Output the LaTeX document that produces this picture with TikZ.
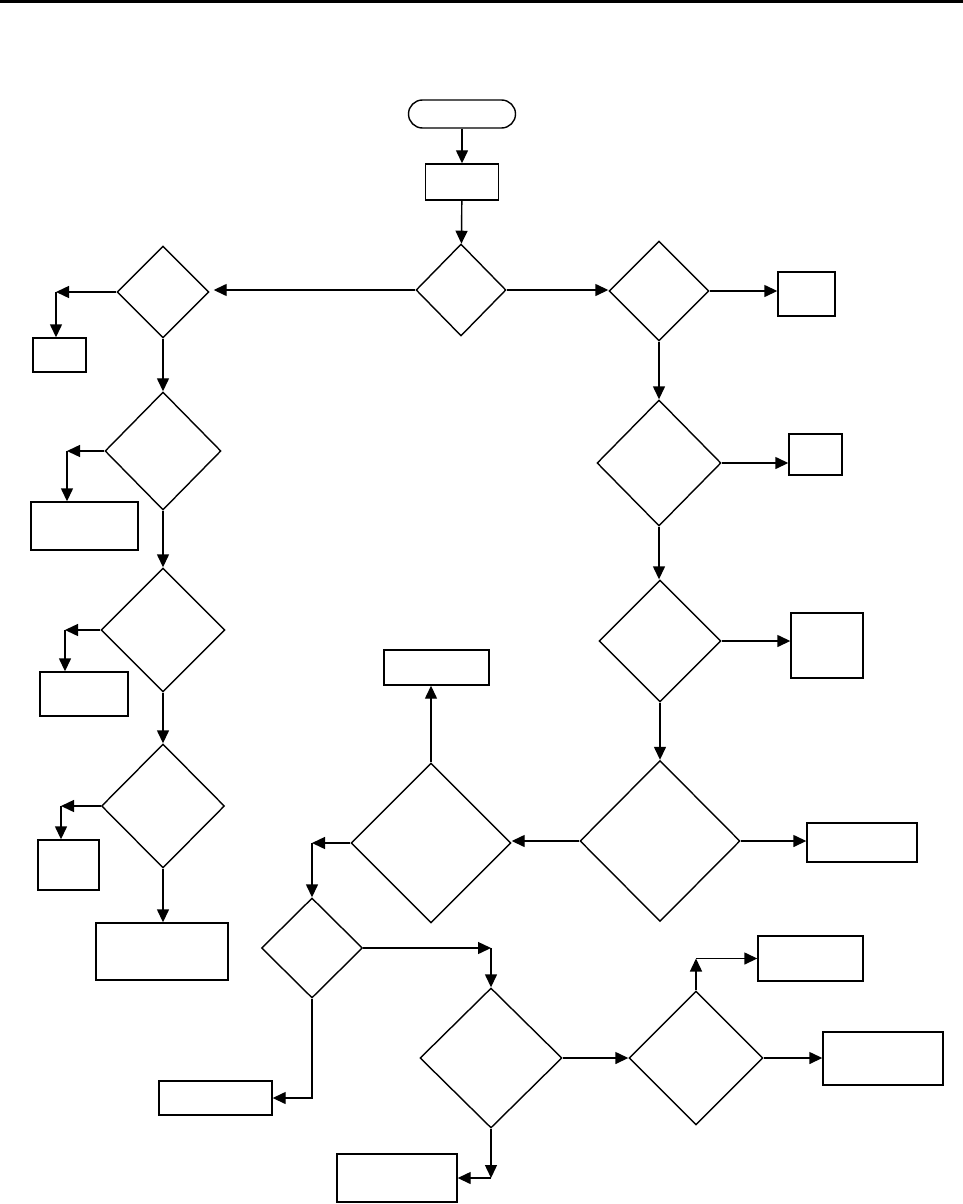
\documentclass[tikz,border=0pt]{standalone}
\usepackage{tikz}
\usetikzlibrary{arrows.meta,shapes.geometric}

\begin{document}
\begin{tikzpicture}[line width=0.8pt,
    flow/.style={-{Triangle[length=2.6mm,width=2.4mm]}},
    term/.style={draw, rectangle, rounded corners=0.28cm, inner sep=0pt},
    procbox/.style={draw, rectangle, inner sep=0pt},
    decide/.style={draw, diamond, aspect=1, inner sep=0pt}]
    \useasboundingbox (0,0) rectangle (19.26,-24.08);
    % header rule
    \draw[line width=1.7pt] (0,-0.03) -- (19.26,-0.03);

    % top
    \node[term, minimum width=2.14cm, minimum height=0.56cm] (start) at (9.24,-2.28) {};
    \node[procbox, minimum width=1.46cm, minimum height=0.72cm] (init) at (9.24,-3.64) {};
    \node[decide, minimum width=1.80cm, minimum height=1.84cm] (d0) at (9.22,-5.80) {};
    \draw[flow] (start) -- (init);
    \draw[flow] (init) -- (d0);

    % left column
    \node[decide, minimum width=1.84cm, minimum height=1.84cm] (dl1) at (3.26,-5.84) {};
    \node[decide, minimum width=2.32cm, minimum height=2.36cm] (dl2) at (3.26,-9.02) {};
    \node[decide, minimum width=2.48cm, minimum height=2.48cm] (dl3) at (3.26,-12.60) {};
    \node[decide, minimum width=2.46cm, minimum height=2.48cm] (dl4) at (3.26,-16.12) {};
    \node[procbox, minimum width=1.06cm, minimum height=0.68cm] (bl1) at (1.19,-7.10) {};
    \node[procbox, minimum width=2.14cm, minimum height=0.96cm] (bl2) at (1.69,-10.52) {};
    \node[procbox, minimum width=1.76cm, minimum height=0.88cm] (bl3) at (1.68,-13.88) {};
    \node[procbox, minimum width=1.22cm, minimum height=1.00cm] (bl4) at (1.37,-17.30) {};
    \node[procbox, minimum width=2.64cm, minimum height=1.14cm] (bl5) at (3.24,-19.03) {};
    \coordinate (cl1) at (1.12,-5.84);
    \coordinate (cl2) at (1.34,-9.02);
    \coordinate (cl3) at (1.30,-12.60);
    \coordinate (cl4) at (1.22,-16.12);

    \draw[flow] (d0.west) -- ([xshift=0.08cm]dl1.east |- d0.west);
    \draw[flow] (dl1) -- (dl2);
    \draw[flow] (dl2) -- (dl3);
    \draw[flow] (dl3) -- (dl4);
    \draw[flow] (dl4.south) -- (dl4.south |- bl5.north);
    \draw[flow] (dl1.west) -- (cl1);
    \draw[flow] (cl1) -- (cl1 |- bl1.north);
    \draw[flow] (dl2.west) -- (cl2);
    \draw[flow] (cl2) -- (cl2 |- bl2.north);
    \draw[flow] (dl3.west) -- (cl3);
    \draw[flow] (cl3) -- (cl3 |- bl3.north);
    \draw[flow] (dl4.west) -- (cl4);
    \draw[flow] (cl4) -- (cl4 |- bl4.north);

    % right column
    \node[decide, minimum width=2.00cm, minimum height=2.00cm] (dr1) at (13.18,-5.82) {};
    \node[decide, minimum width=2.48cm, minimum height=2.52cm] (dr2) at (13.18,-9.26) {};
    \node[decide, minimum width=2.44cm, minimum height=2.44cm] (dr3) at (13.20,-12.82) {};
    \node[decide, minimum width=3.20cm, minimum height=3.22cm] (dr4) at (13.20,-16.82) {};
    \node[procbox, minimum width=1.14cm, minimum height=0.88cm] (br1) at (16.13,-5.88) {};
    \node[procbox, minimum width=1.06cm, minimum height=0.82cm] (br2) at (16.31,-9.09) {};
    \node[procbox, minimum width=1.44cm, minimum height=1.30cm] (br3) at (16.54,-12.91) {};
    \node[procbox, minimum width=2.20cm, minimum height=0.78cm] (br4) at (17.24,-16.85) {};

    \draw[flow] (d0.east) -- (d0.east -| dr1.west);
    \draw[flow] (dr1.south) -- (dr1.south |- dr2.north);
    \draw[flow] (dr2.south) -- (dr2.south |- dr3.north);
    \draw[flow] (dr3.south) -- (dr3.south |- dr4.north);
    \draw[flow] (dr1.east) -- (dr1.east -| br1.west);
    \draw[flow] (dr2.east) -- (dr2.east -| br2.west);
    \draw[flow] (dr3.east) -- (dr3.east -| br3.west);
    \draw[flow] (dr4.east) -- (dr4.east -| br4.west);

    % middle and bottom
    \node[decide, minimum width=3.20cm, minimum height=3.20cm] (dm) at (8.62,-16.86) {};
    \node[procbox, minimum width=2.10cm, minimum height=0.70cm] (bm) at (8.73,-13.35) {};
    \node[decide, minimum width=2.02cm, minimum height=2.00cm] (ds) at (6.24,-18.96) {};
    \node[procbox, minimum width=2.26cm, minimum height=0.68cm] (bs) at (4.31,-21.96) {};
    \node[decide, minimum width=2.84cm, minimum height=2.80cm] (db) at (9.82,-21.16) {};
    \node[procbox, minimum width=2.40cm, minimum height=0.96cm] (bb) at (7.94,-23.56) {};
    \node[decide, minimum width=2.68cm, minimum height=2.68cm] (dc) at (13.92,-21.16) {};
    \node[procbox, minimum width=2.10cm, minimum height=0.90cm] (bc1) at (16.21,-19.17) {};
    \node[procbox, minimum width=2.40cm, minimum height=1.06cm] (bc2) at (17.66,-21.17) {};
    \coordinate (cm) at (ds.north |- dm.west);
    \coordinate (cs) at (db.north |- ds.east);
    \coordinate (cc) at (dc.north |- bc1.west);
    \coordinate (cb) at (db.south |- bb.east);

    \draw[flow] (dr4.west) -- (dr4.west -| dm.east);
    \draw[flow] (dm.north) -- (dm.north |- bm.south);
    \draw[flow] (dm.west) -- (cm);
    \draw[flow] (cm) -- (ds.north);
    \draw[flow] (ds.east) -- (cs);
    \draw[flow] (cs) -- (db.north);
    \draw[flow] (ds.south) |- (bs.east);
    \draw[flow] (db.east) -- (dc.west);
    \draw[flow] (dc.north) -- (cc);
    \draw[flow] (cc) -- (bc1.west);
    \draw[flow] (dc.east) -- (dc.east -| bc2.west);
    \draw[flow] (db.south) -- (cb);
    \draw[flow] (cb) -- (bb.east);
\end{tikzpicture}
\end{document}
